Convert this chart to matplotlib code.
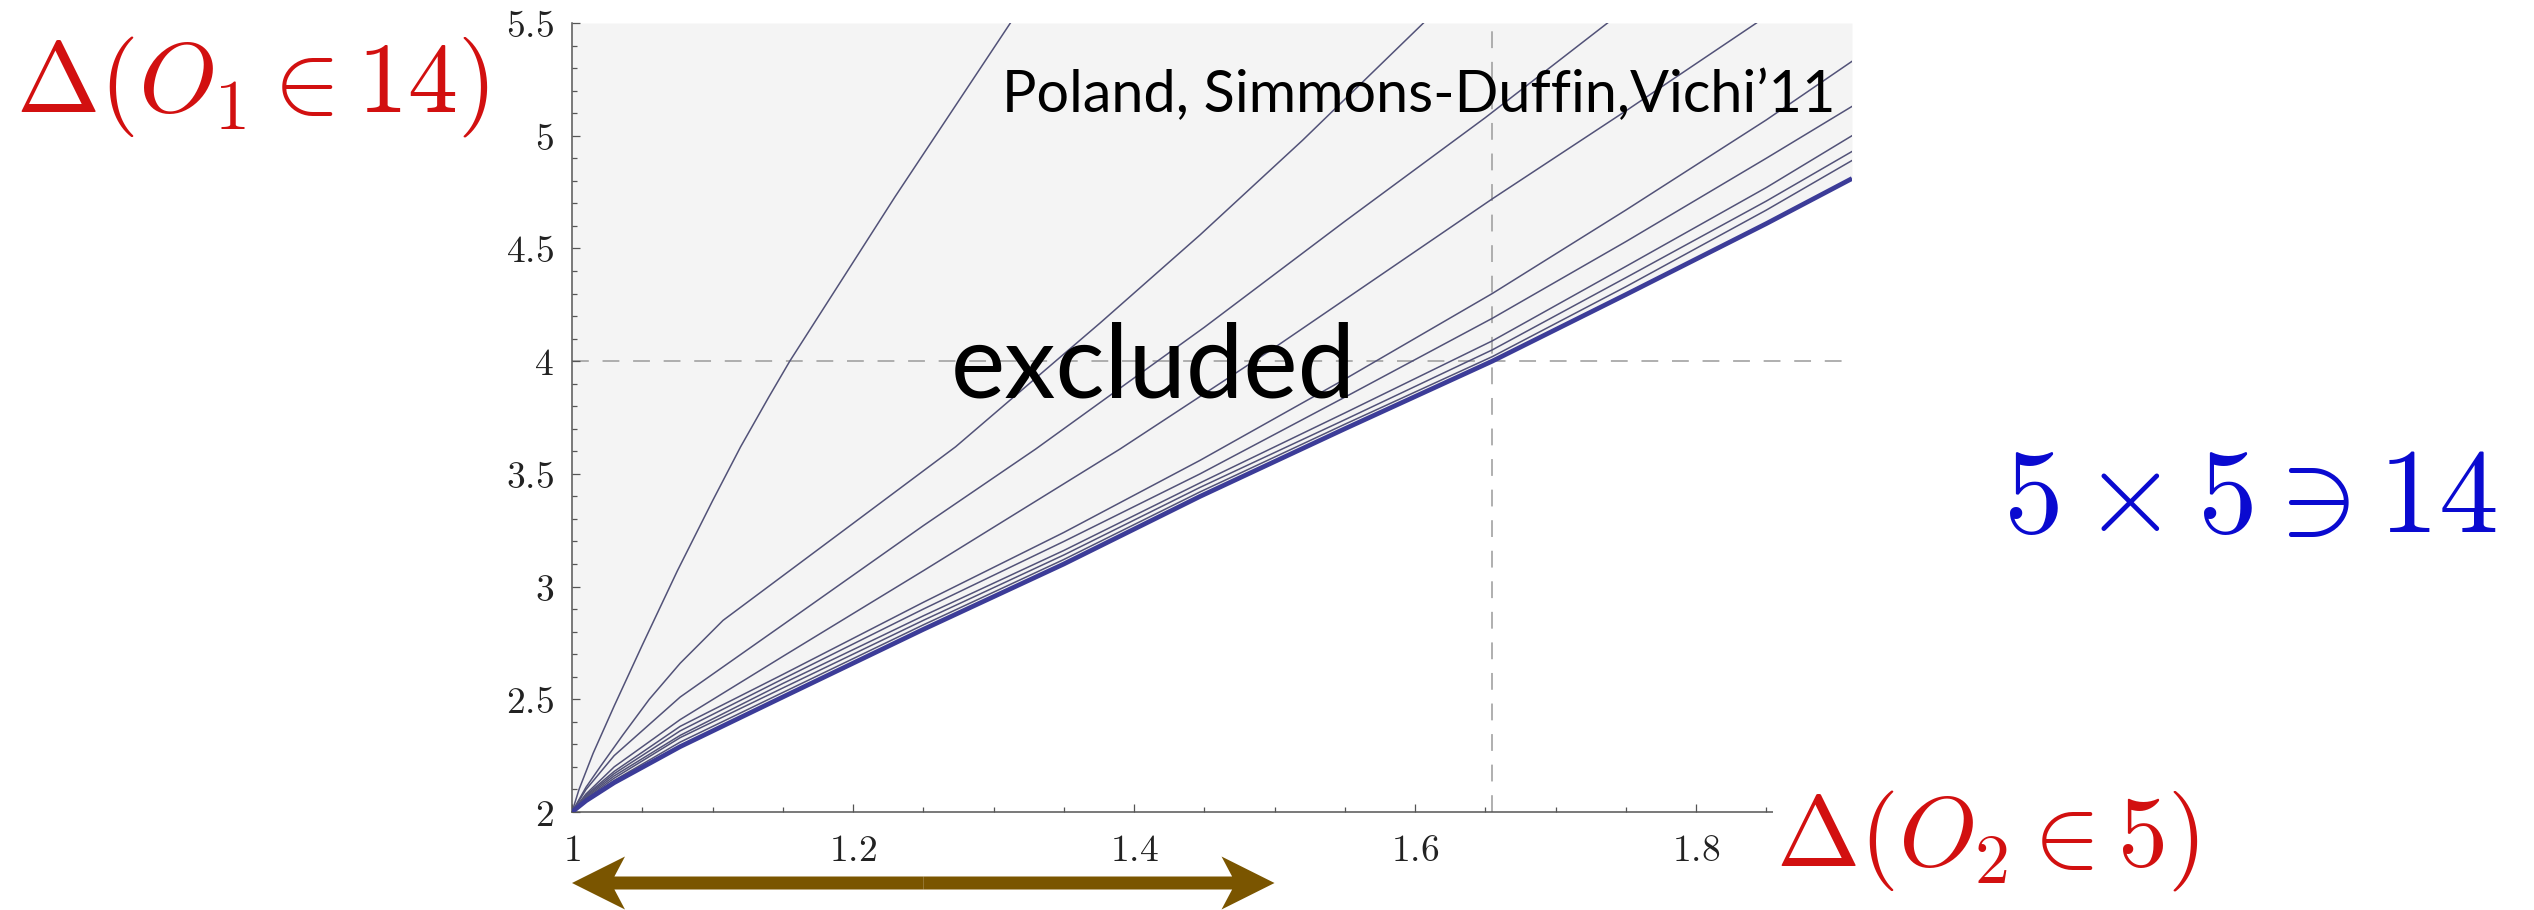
import matplotlib
matplotlib.use("Agg")
import matplotlib.pyplot as plt
import matplotlib.patches as mpatches
from matplotlib.ticker import MultipleLocator, FuncFormatter
from matplotlib.transforms import blended_transform_factory

plt.rcParams["mathtext.fontset"] = "cm"

# ── bound curves: Delta(O1 in 14) against Delta(O2 in 5) ────────────────────
# best bound (thick line), everything above it is excluded
boundary_x = [1.0, 1.01, 1.03, 1.077, 1.15, 1.25, 1.35, 1.447, 1.55, 1.655, 1.75, 1.85, 1.911]
boundary_y = [2.0, 2.05, 2.13, 2.29, 2.51, 2.81, 3.10, 3.40, 3.70, 4.00, 4.295, 4.61, 4.81]

# weaker bounds (thin lines), steepest first
bound_a_x = [1.0, 1.005, 1.015, 1.03, 1.05, 1.075, 1.1, 1.12, 1.14, 1.155, 1.23, 1.312]
bound_a_y = [2.0, 2.1, 2.26, 2.47, 2.74, 3.07, 3.38, 3.62, 3.84, 4.0, 4.73, 5.5]
bound_b_x = [1.0, 1.01, 1.02, 1.036, 1.055, 1.077, 1.1075, 1.2, 1.273, 1.376, 1.447, 1.52, 1.606]
bound_b_y = [2.0, 2.11, 2.2, 2.34, 2.5, 2.66, 2.85, 3.28, 3.62, 4.17, 4.56, 4.98, 5.5]
bound_c_x = [1.0, 1.01, 1.03, 1.077, 1.15, 1.25, 1.33, 1.45, 1.55, 1.65, 1.737]
bound_c_y = [2.0, 2.1, 2.25, 2.51, 2.83, 3.27, 3.61, 4.15, 4.62, 5.08, 5.5]
bound_d_x = [1.0, 1.01, 1.03, 1.077, 1.15, 1.25, 1.39, 1.5, 1.655, 1.75, 1.843]
bound_d_y = [2.0, 2.08, 2.2, 2.41, 2.69, 3.07, 3.61, 4.06, 4.72, 5.11, 5.5]

cluster_x = [1.0, 1.01, 1.03, 1.077, 1.15, 1.25, 1.35, 1.447, 1.55, 1.655, 1.75, 1.85, 1.911]
bound_e_y = [2.0, 2.075, 2.18, 2.38, 2.61, 2.93, 3.24, 3.56, 3.92, 4.30, 4.67, 5.07, 5.33]
bound_f_y = [2.0, 2.07, 2.17, 2.36, 2.59, 2.90, 3.20, 3.50, 3.84, 4.19, 4.53, 4.90, 5.13]
bound_g_y = [2.0, 2.065, 2.16, 2.34, 2.57, 2.87, 3.16, 3.46, 3.77, 4.09, 4.42, 4.77, 5.00]
bound_h_y = [2.0, 2.06, 2.15, 2.33, 2.55, 2.85, 3.14, 3.44, 3.74, 4.05, 4.37, 4.71, 4.93]
bound_i_y = [2.0, 2.055, 2.14, 2.31, 2.53, 2.83, 3.12, 3.42, 3.72, 4.02, 4.33, 4.67, 4.89]

thin_bounds = [
    (bound_a_x, bound_a_y), (bound_b_x, bound_b_y), (bound_c_x, bound_c_y),
    (bound_d_x, bound_d_y), (cluster_x, bound_e_y), (cluster_x, bound_f_y),
    (cluster_x, bound_g_y), (cluster_x, bound_h_y), (cluster_x, bound_i_y),
]

# reference lines and the range arrow under the x axis
ref_x = 1.655
ref_y = 4.0
arrow_span = [1.0, 1.5]

x_range = (1.0, 1.911)
y_range = (2.0, 5.5)

# ── figure ──────────────────────────────────────────────────────────────────
W, H = 2534, 910
fig = plt.figure(figsize=(W / 100, H / 100), dpi=100)
ax = fig.add_axes([572 / W, (H - 812) / H, 1280 / W, 789 / H])
ax.set_xlim(*x_range)
ax.set_ylim(*y_range)

ax.fill_between(boundary_x, boundary_y, y_range[1], color="#f4f4f4", lw=0, zorder=0)

dash = (0, (11, 9))
ax.axhline(ref_y, color="#9a9a9a", lw=1.1, ls=dash, zorder=1)
ax.axvline(ref_x, color="#9a9a9a", lw=1.1, ls=dash, zorder=1)

for bx, by in thin_bounds:
    ax.plot(bx, by, color="#525278", lw=1.1, zorder=2)
ax.plot(boundary_x, boundary_y, color="#3c3c98", lw=3.4, zorder=3,
        solid_capstyle="butt")

# Mathematica-style frame: left and bottom only, ticks pointing in
for side in ("top", "right"):
    ax.spines[side].set_visible(False)
for side in ("left", "bottom"):
    ax.spines[side].set_color("#555555")
    ax.spines[side].set_linewidth(1.1)

ax.xaxis.set_major_locator(MultipleLocator(0.2))
ax.xaxis.set_minor_locator(MultipleLocator(0.05))
ax.yaxis.set_major_locator(MultipleLocator(0.5))
ax.yaxis.set_minor_locator(MultipleLocator(0.1))
fmt = FuncFormatter(lambda v, p: f"${v:g}$")
ax.xaxis.set_major_formatter(fmt)
ax.yaxis.set_major_formatter(fmt)
ax.tick_params(which="both", direction="in", color="#555555", width=0.9,
               labelcolor="#222222", labelsize=27)
ax.tick_params(which="major", length=5.8)
ax.tick_params(which="minor", length=3.6)
ax.tick_params(axis="x", pad=15)
ax.tick_params(axis="y", pad=13)

# ── annotations ─────────────────────────────────────────────────────────────
fig.text(1002 / W, 1 - 112 / H, "Poland, Simmons-Duffin,Vichi\u201911",
         family="Lato", fontsize=41.5, va="baseline", ha="left", color="black")
fig.text(951 / W, 1 - 398 / H, "excluded", family="Lato", fontsize=74,
         va="baseline", ha="left", color="black")

red = "#d21010"
fig.text(16 / W, 1 - 112 / H, r"$\Delta(O_1 \in 14)$", fontsize=72,
         color=red, va="baseline", ha="left")
fig.text(1776 / W, 1 - 866 / H, r"$\Delta(O_2 \in 5)$", fontsize=72,
         color=red, va="baseline", ha="left",
         bbox=dict(facecolor="white", edgecolor="none", pad=2))
fig.text(2003 / W, 1 - 532 / H, r"$5 \times 5 \ni 14$", fontsize=86,
         color="#0a0ad0", va="baseline", ha="left")

# double-headed arrow below the x axis, spanning arrow_span in data units
trans = blended_transform_factory(ax.transData, fig.transFigure)
px_per_unit = 1280 / (x_range[1] - x_range[0])
head_len = 53 / px_per_unit
mid = 0.5 * (arrow_span[0] + arrow_span[1])
for end in arrow_span:
    arr = mpatches.FancyArrow(
        mid, (H - 883) / H, end - mid, 0,
        width=13 / H, head_width=53 / H, head_length=head_len,
        length_includes_head=True, overhang=0.2,
        color="#7a5500", lw=0, transform=trans, clip_on=False,
    )
    fig.add_artist(arr)

fig.savefig("out.png", dpi=100)
